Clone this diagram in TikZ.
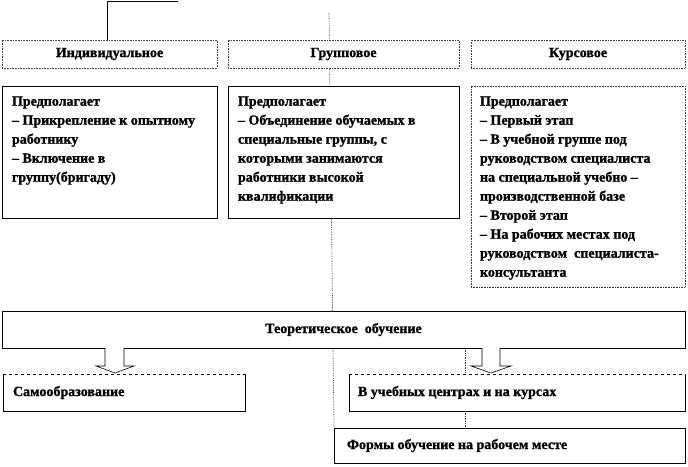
\documentclass[tikz,border=0pt]{standalone}
\usepackage{fontspec}
\setmainfont{Liberation Serif}[BoldFeatures={FakeBold=1.2}]
\usetikzlibrary{calc,shadows,backgrounds}
\tikzset{
  boxbase/.style={rectangle, inner sep=0pt, outer sep=0pt, fill=white, anchor=north west, line width=0.6pt},
  hbox/.style={boxbase, draw=black!75, densely dotted},
  cbox/.style={boxbase, draw=black, drop shadow={shadow xshift=1.2pt, shadow yshift=-1.2pt, fill=black!45, opacity=1}},
  dbox/.style={boxbase, draw=black!80, densely dotted},
  txt/.style={align=left, inner sep=0pt, outer sep=0pt, anchor=north west},
  dline/.style={draw=black!80, densely dotted, line width=0.7pt},
  arr/.style={draw=black, fill=white, line width=0.6pt, line join=miter},
  edge dashed/.style={draw=black, dashed, line width=0.6pt},
}
\begin{document}
\begin{tikzpicture}[x=1pt, y=-1pt, font=\bfseries\fontsize{14}{19}\selectfont]
\useasboundingbox (0,0) rectangle (688,466);

\coordinate (topend) at (178,1);
\coordinate (d1) at (329,13);
\coordinate (d2) at (465,0);

% headers
\node[hbox, minimum width=215pt, minimum height=28pt] (h1) at (2,40) {Индивидуальное};
\node[hbox, minimum width=231pt, minimum height=28pt] (h2) at (228,40) {Групповое};
\node[hbox, minimum width=214pt, minimum height=28pt] (h3) at (471,40) {Курсовое};

% content boxes
\node[cbox, minimum width=215pt, minimum height=132pt] (c1) at (2,86) {};
\node[cbox, minimum width=231pt, minimum height=132pt] (c2) at (228,86) {};
\node[dbox, minimum width=214pt, minimum height=201pt] (c3) at (471,86) {};

\node[txt] (t1) at ($(c1.north west)+(10,10.5)$) {Предполагает\\– Прикрепление к опытному\\работнику\\– Включение в\\группу(бригаду)};
\node[txt] (t2) at ($(c2.north west)+(10,10.5)$) {Предполагает\\– Объединение обучаемых в\\специальные группы, с\\которыми занимаются\\работники высокой\\квалификации};
\node[txt] (t3) at ($(c3.north west)+(9,10.5)$) {Предполагает\\– Первый этап\\– В учебной группе под\\руководством специалиста\\на специальной учебно –\\производственной базе\\– Второй этап\\– На рабочих местах под\\руководством~ специалиста-\\консультанта};

% theoretical
\node[cbox, minimum width=683pt, minimum height=37pt] (th) at (2,311) {Теоретическое~ обучение};

% lower boxes
\node[cbox, minimum width=242pt, minimum height=37pt] (self) at (3,374) {};
\node[txt, anchor=west] (tself) at ($(self.west)+(10,0)$) {Самообразование};
\node[cbox, minimum width=336pt, minimum height=37pt] (ctr) at (349,374) {};
\node[txt, anchor=west] (tctr) at ($(ctr.west)+(9,0)$) {В учебных центрах и на курсах};
\node[cbox, minimum width=351pt, minimum height=35pt] (forms) at (334,428) {};
\node[txt, anchor=west] (tforms) at ($(forms.west)+(13,0)$) {Формы обучение на рабочем месте};

% dashed tops of lower boxes
\draw[white, line width=1pt] (self.north west) -- (self.north east);
\draw[edge dashed] (self.north west) -- (self.north east);
\draw[white, line width=1pt] (ctr.north west) -- (ctr.north east);
\draw[edge dashed] (ctr.north west) -- (ctr.north east);

% block arrows
\draw[arr] (105,348) -- (105,366) -- (96,366) -- (115,373) -- (134,366) -- (124,366) -- (124,348);
\draw[arr] (482,348) -- (482,366) -- (471,366) -- (491,373) -- (511,366) -- (500,366) -- (500,348);

% connectors behind boxes
\begin{scope}[on background layer]
\draw[line width=0.6pt] ($(h1.north west)+(105,0)$) |- (topend);
\draw[dline] (d1) -- (forms.north west);
\draw[dline] (d2 |- th.south) -- (d2 |- forms.north);
\end{scope}
\end{tikzpicture}
\end{document}
